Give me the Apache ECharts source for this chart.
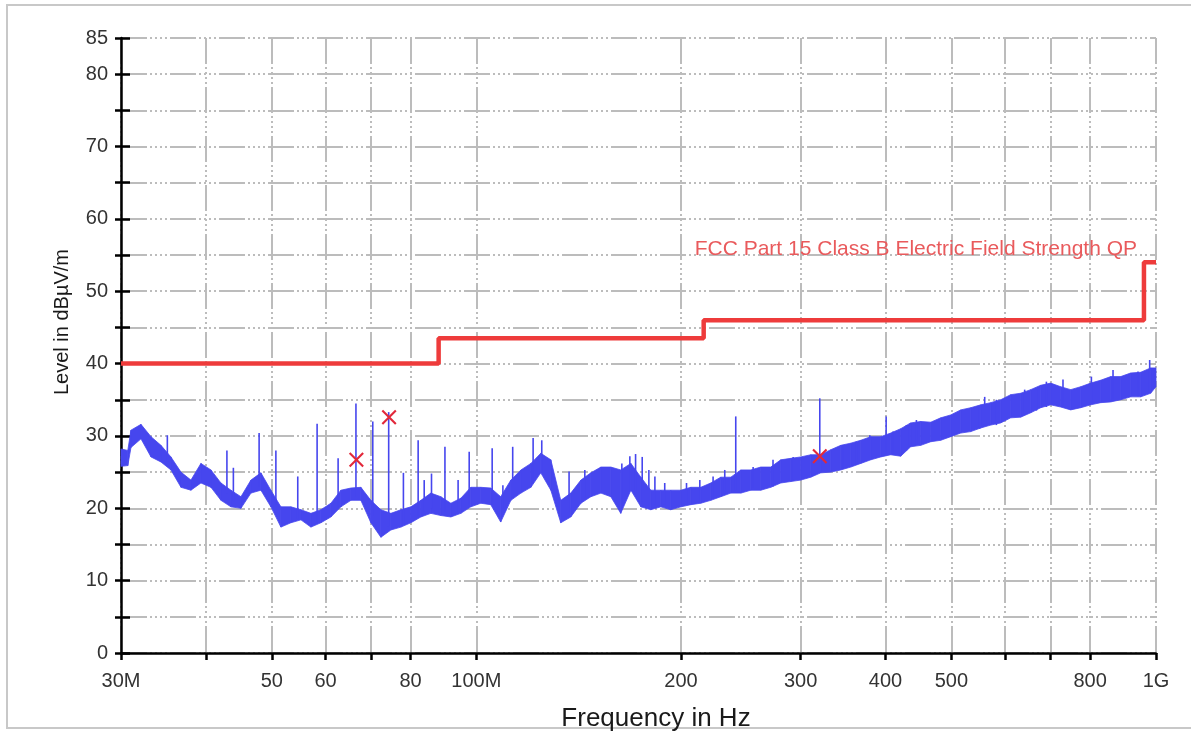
<!DOCTYPE html>
<html>
<head>
<meta charset="utf-8">
<title>Radiated emission scan</title>
<script src="https://cdn.jsdelivr.net/npm/echarts@6/dist/echarts.min.js"></script>
<style>
  html, body { margin: 0; padding: 0; background: #ffffff; }
  #chart { width: 1191px; height: 731px; }
</style>
</head>
<body>
<div id="chart"></div>
<script>
// ---- Frequency axis ticks (MHz) ----
const xTickFreq = [30, 40, 50, 60, 70, 80, 100, 200, 300, 400, 500, 600, 700, 800, 1000];
const xTickText = ['30M', '', '50', '60', '', '80', '100M', '200', '300', '400', '500', '', '', '800', '1G'];

// ---- Measured trace: noise band (MHz, lower edge dBµV/m, upper edge dBµV/m) ----
const bandFreq = [30.0, 30.7, 31.03, 32.10, 33.21, 34.35, 35.53, 36.76, 38.02, 39.33,
  40.69, 42.09, 43.54, 45.04, 46.59, 48.19, 49.85, 51.57, 53.35, 55.19,
  57.09, 59.05, 61.09, 63.19, 65.37, 67.62, 69.95, 72.36, 74.85, 77.43,
  80.10, 82.86, 85.71, 88.66, 91.72, 94.88, 98.14, 101.5, 105.0, 108.6,
  112.4, 116.3, 120.3, 124.4, 128.7, 133.1, 137.7, 142.5, 147.4, 152.5,
  157.7, 163.1, 168.8, 174.6, 180.6, 186.8, 193.2, 199.9, 206.8, 213.9,
  221.3, 228.9, 236.8, 245.0, 253.4, 262.1, 271.1, 280.5, 290.2, 300.2,
  310.5, 321.2, 332.3, 343.7, 355.5, 367.8, 380.5, 393.6, 407.1, 421.1,
  435.6, 450.6, 466.2, 482.2, 498.8, 516.0, 533.8, 552.2, 571.2, 590.9,
  611.2, 632.3, 654.1, 676.6, 699.9, 724.0, 749.0, 774.8, 801.5, 829.1,
  857.7, 887.2, 917.8, 949.4, 982.1, 1000];
const bandLow = [25.8, 25.9, 28.4, 29.6, 27.1, 26.4, 25.3, 22.9, 22.5, 23.5,
  22.9, 21.1, 20.2, 20.0, 22.1, 22.5, 20.2, 17.4, 18.0, 18.4,
  17.4, 18.0, 18.8, 20.2, 21.1, 21.1, 18.0, 16.0, 17.0, 17.4,
  18.0, 18.8, 19.3, 19.0, 18.8, 19.3, 20.2, 20.7, 20.5, 18.1,
  21.1, 22.1, 22.9, 24.9, 22.5, 18.0, 18.8, 20.7, 21.6, 22.1,
  21.6, 19.3, 22.5, 20.2, 19.8, 20.2, 19.8, 20.2, 20.5, 20.7,
  21.1, 21.6, 22.1, 22.1, 22.5, 22.5, 22.9, 23.5, 23.7, 23.9,
  24.3, 24.9, 25.0, 25.3, 25.7, 26.2, 26.7, 27.1, 27.4, 27.2,
  28.5, 28.7, 29.2, 29.4, 29.9, 30.4, 30.6, 31.1, 31.5, 31.8,
  32.5, 32.6, 33.2, 33.9, 34.3, 34.0, 33.6, 33.9, 34.3, 34.6,
  34.7, 35.0, 35.4, 35.4, 35.9, 36.8];
const bandHigh = [28.2, 28.0, 30.8, 31.6, 29.9, 28.7, 27.1, 25.0, 23.9, 26.2,
  25.3, 23.5, 22.5, 21.6, 23.9, 24.9, 22.5, 20.2, 20.2, 19.8,
  19.3, 19.8, 20.7, 22.5, 22.8, 22.9, 21.1, 19.8, 19.3, 19.8,
  20.2, 21.1, 22.1, 21.6, 20.7, 21.4, 22.9, 22.9, 22.8, 21.6,
  23.9, 25.3, 26.2, 27.6, 26.7, 21.1, 22.1, 23.9, 24.9, 25.7,
  25.7, 25.3, 26.2, 24.3, 22.5, 22.5, 22.5, 22.5, 22.9, 22.9,
  23.5, 24.3, 24.3, 25.3, 25.3, 25.7, 25.7, 26.7, 26.9, 27.1,
  27.4, 27.4, 28.1, 28.7, 29.0, 29.4, 29.9, 29.9, 30.4, 31.0,
  31.8, 32.0, 31.9, 32.5, 32.9, 33.6, 33.9, 34.3, 34.6, 35.0,
  35.7, 35.9, 36.4, 37.0, 37.3, 36.8, 36.4, 36.8, 37.3, 37.7,
  38.2, 38.2, 38.7, 38.8, 39.4, 39.4];

// ---- Narrowband peaks riding on the trace (MHz, foot dBµV/m, peak dBµV/m) ----
const spikeFreq = [35.1, 42.95, 43.9, 47.9, 50.7, 54.6, 58.3, 62.6, 66.5, 70.4,
  74.3, 78.1, 82.1, 83.8, 85.9, 89.9, 94.0, 97.6, 105.5, 109.4,
  113.1, 121.2, 124.8, 136.9, 144.4, 163.7, 168.2, 171.5, 175.4, 179.4,
  183.1, 189.3, 203.8, 213.2, 223.0, 232.0, 240.8, 255.4, 273.2, 292.5,
  320.1, 346.4, 362.4, 379.2, 400.8, 410.3, 429.3, 434.1, 444.1, 550.3,
  559.7, 582.3, 640.9, 666.9, 689.8, 729.7, 803.4, 864.5, 940.8, 978.8];
const spikeBase = [26.5, 22.0, 21.0, 23.0, 20.5, 18.5, 18.0, 20.0, 21.5, 19.0,
  17.5, 17.8, 19.0, 19.5, 20.0, 19.5, 19.5, 20.5, 20.5, 20.0,
  21.5, 23.5, 25.0, 19.5, 21.5, 20.0, 22.5, 22.0, 21.0, 20.5,
  20.5, 20.5, 20.5, 21.0, 21.5, 22.0, 22.5, 22.8, 23.0, 24.0,
  25.0, 25.5, 26.0, 26.7, 27.5, 27.5, 28.0, 28.5, 28.8, 31.0,
  31.5, 31.5, 33.0, 33.5, 34.0, 34.0, 34.5, 35.0, 35.5, 36.0];
const spikeTop = [30.1, 28.0, 25.6, 30.4, 28.0, 24.4, 31.7, 26.9, 34.5, 32.0,
  33.3, 24.9, 29.4, 23.9, 24.8, 28.5, 23.9, 27.8, 28.3, 23.2,
  28.5, 29.7, 29.4, 25.1, 25.3, 26.2, 27.2, 27.5, 27.1, 25.3,
  24.4, 23.5, 23.5, 23.9, 24.4, 25.3, 32.7, 25.7, 26.7, 27.1,
  35.2, 28.7, 29.2, 30.1, 32.7, 30.6, 31.5, 31.7, 32.2, 34.0,
  35.4, 35.0, 36.4, 36.4, 37.5, 37.8, 38.2, 39.1, 38.9, 40.5];

// ---- Final quasi-peak results (MHz, dBµV/m) ----
const qpFreq = [66.6, 74.4, 320.1];
const qpLevel = [26.7, 32.6, 27.2];

// ---- FCC Part 15 Class B limit, 3 m (MHz, dBµV/m), drawn as a step ----
const limitFreq = [30, 88, 216, 960, 1000];
const limitLevel = [40, 43.5, 46, 54, 54];
const limitName = 'FCC Part 15 Class B Electric Field Strength QP';

const TRACE = '#4646ee';
const LIMIT = '#ee3b3b';
const FONT = '"Liberation Sans", Arial, sans-serif';
const lg = Math.log10;

const gridDash = [26, 3, 2, 3, 2, 3, 2, 3, 2, 3];
const labelled = xTickFreq.filter((f, i) => xTickText[i] !== '');

function xLabel(v) {
  const f = Math.round(Math.pow(10, v));
  const i = xTickFreq.indexOf(f);
  return i >= 0 ? xTickText[i] : '';
}

// one quadrilateral per pair of neighbouring band samples
const bandSegments = [];
for (let i = 0; i < bandFreq.length - 1; i++) {
  bandSegments.push([lg(bandFreq[i]), bandLow[i], bandHigh[i],
    lg(bandFreq[i + 1]), bandLow[i + 1], bandHigh[i + 1]]);
}

const chart = echarts.init(document.getElementById('chart'), null, { renderer: 'canvas' });

const baseX = { type: 'value', min: lg(30), max: lg(1000), gridIndex: 0 };
const baseY = { type: 'value', min: 0, max: 85, interval: 5, gridIndex: 0 };

chart.setOption({
  animation: false,
  backgroundColor: '#ffffff',
  grid: { left: 121, right: 35, top: 38, bottom: 78, containLabel: false, outerBoundsMode: 'none' },
  xAxis: [
    Object.assign({}, baseX, {
      axisLine: { show: true, onZero: false, lineStyle: { color: '#000', width: 2.5 } },
      axisTick: { show: true, inside: false, length: 7, lineStyle: { color: '#000', width: 2.5 },
        customValues: xTickFreq.map(lg) },
      axisLabel: { show: true, margin: 18, fontFamily: FONT, fontSize: 20, color: '#333',
        customValues: labelled.map(lg), formatter: xLabel, hideOverlap: false },
      splitLine: { show: true, lineStyle: { color: '#bcbcbc', width: 2, type: gridDash } }
    }),
    Object.assign({}, baseX, {
      axisLine: { show: false },
      axisTick: { show: true, inside: true, length: 6, lineStyle: { color: '#000', width: 2.5 },
        customValues: xTickFreq.map(lg) },
      axisLabel: { show: false },
      splitLine: { show: false }
    })
  ],
  yAxis: [
    Object.assign({}, baseY, {
      axisLine: { show: true, onZero: false, lineStyle: { color: '#000', width: 2.5 } },
      axisTick: { show: true, inside: false, length: 6, lineStyle: { color: '#000', width: 2.5 } },
      axisLabel: { margin: 13, fontFamily: FONT, fontSize: 20, color: '#333',
        formatter: v => (v % 10 === 0 || v === 85) ? String(v) : '' },
      splitLine: { show: true, lineStyle: { color: '#bcbcbc', width: 2, type: gridDash } }
    }),
    Object.assign({}, baseY, {
      position: 'left',
      axisLine: { show: false },
      axisTick: { show: true, inside: true, length: 9, lineStyle: { color: '#000', width: 2.5 } },
      axisLabel: { show: false },
      splitLine: { show: false }
    })
  ],
  graphic: [
    {
      type: 'rect', silent: true, z: -10,
      shape: { x: 7, y: 5, width: 1195, height: 723 },
      style: { fill: 'none', stroke: '#c8c8c8', lineWidth: 2 }
    },
    {
      type: 'text', silent: true, z: 10,
      x: 62, y: 322, rotation: Math.PI / 2,
      style: {
        text: 'Level in dBµV/m', x: 0, y: 0,
        textAlign: 'center', textVerticalAlign: 'middle', verticalAlign: 'middle',
        fill: '#1a1a1a', font: '20px ' + FONT
      }
    },
    {
      type: 'text', silent: true, z: 10,
      style: {
        text: 'Frequency in Hz', x: 656, y: 719,
        textAlign: 'center', textVerticalAlign: 'middle', verticalAlign: 'middle',
        fill: '#1a1a1a', font: '26px ' + FONT
      }
    },
    {
      type: 'text', silent: true, z: 10,
      style: {
        text: limitName, x: 1137, y: 249,
        textAlign: 'right', textVerticalAlign: 'middle', verticalAlign: 'middle',
        fill: '#e95a5c', font: '21px ' + FONT
      }
    }
  ],
  series: [
    {
      name: 'trace', type: 'custom', xAxisIndex: 0, yAxisIndex: 0, silent: true, z: 3,
      data: bandSegments,
      encode: { x: [0, 3], y: [1, 2, 4, 5] },
      renderItem: (params, api) => {
        const a = api.coord([api.value(0), api.value(1)]);
        const b = api.coord([api.value(0), api.value(2)]);
        const c = api.coord([api.value(3), api.value(5)]);
        const d = api.coord([api.value(3), api.value(4)]);
        return {
          type: 'polygon',
          shape: { points: [a, b, c, d] },
          style: { fill: TRACE, stroke: TRACE, lineWidth: 0.8 }
        };
      }
    },
    {
      name: 'peaks', type: 'custom', xAxisIndex: 0, yAxisIndex: 0, silent: true, z: 3,
      data: spikeFreq.map((f, i) => [lg(f), spikeBase[i], spikeTop[i]]),
      encode: { x: 0, y: [1, 2] },
      renderItem: (params, api) => {
        const a = api.coord([api.value(0), api.value(1)]);
        const b = api.coord([api.value(0), api.value(2)]);
        return {
          type: 'line',
          shape: { x1: a[0], y1: a[1], x2: b[0], y2: b[1] },
          style: { stroke: TRACE, lineWidth: 1.6 }
        };
      }
    },
    {
      name: limitName, type: 'line', step: 'end', xAxisIndex: 0, yAxisIndex: 0,
      data: limitFreq.map((f, i) => [lg(f), limitLevel[i]]),
      symbol: 'none', silent: true, z: 5,
      lineStyle: { color: LIMIT, width: 4.5 }
    },
    {
      name: 'QP', type: 'scatter', xAxisIndex: 0, yAxisIndex: 0, z: 6,
      data: qpFreq.map((f, i) => [lg(f), qpLevel[i]]),
      symbol: 'path://M0,1L1,0L5,4L9,0L10,1L6,5L10,9L9,10L5,6L1,10L0,9L4,5Z',
      symbolSize: 15,
      itemStyle: { color: '#e2283a', opacity: 1 }
    }
  ]
});
</script>
</body>
</html>
